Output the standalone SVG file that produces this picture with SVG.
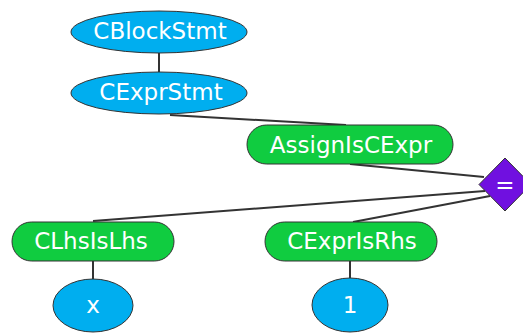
<svg xmlns="http://www.w3.org/2000/svg" width="523" height="333" viewBox="0 0 523 333">
<style>
.e{fill:#00aeef;stroke:#333;stroke-width:1}
.r{fill:#10cc40;stroke:#333;stroke-width:1}
.d{fill:#7010e0;stroke:#333;stroke-width:1}
.t{fill:#fff;font-family:"DejaVu Sans",sans-serif;font-size:23px;font-weight:400;text-anchor:middle}
.c{stroke:#333;stroke-width:2;fill:none}
</style>
<rect width="523" height="333" fill="#fff"/>
<g id="connectors">
<line class="c" x1="159" y1="53" x2="159" y2="72"/>
<line class="c" x1="170" y1="115" x2="346" y2="125"/>
<line class="c" x1="350" y1="164" x2="484" y2="177"/>
<line class="c" x1="93" y1="221" x2="485" y2="191"/>
<line class="c" x1="353" y1="222" x2="490" y2="196"/>
<line class="c" x1="93" y1="261" x2="93" y2="279"/>
<line class="c" x1="350" y1="261" x2="350" y2="279"/>
</g>
<g id="CBlockStmt">
<ellipse class="e" cx="159" cy="32" rx="88" ry="21"/>
<text class="t" x="160" y="39">CBlockStmt</text>
</g>
<g id="CExprStmt">
<ellipse class="e" cx="159" cy="93" rx="88" ry="21"/>
<text class="t" x="161" y="100">CExprStmt</text>
</g>
<g id="AssignIsCExpr">
<rect class="r" x="247" y="125" width="206" height="39" rx="19.5"/>
<text class="t" x="351" y="153">AssignIsCExpr</text>
</g>
<g id="eq">
<polygon class="d" points="505,158 531,184.5 505,211 479,184.5"/>
<text class="t" x="505" y="193">=</text>
</g>
<g id="CLhsIsLhs">
<rect class="r" x="12" y="222" width="162" height="39" rx="19.5"/>
<text class="t" x="91" y="249">CLhsIsLhs</text>
</g>
<g id="CExprIsRhs">
<rect class="r" x="265" y="222" width="172" height="39" rx="19.5"/>
<text class="t" x="352" y="249">CExprIsRhs</text>
</g>
<g id="x">
<ellipse class="e" cx="93" cy="305.5" rx="40" ry="26.5"/>
<text class="t" x="93" y="313">x</text>
</g>
<g id="one">
<ellipse class="e" cx="350" cy="305" rx="38" ry="27"/>
<text class="t" x="350" y="313">1</text>
</g>
</svg>
